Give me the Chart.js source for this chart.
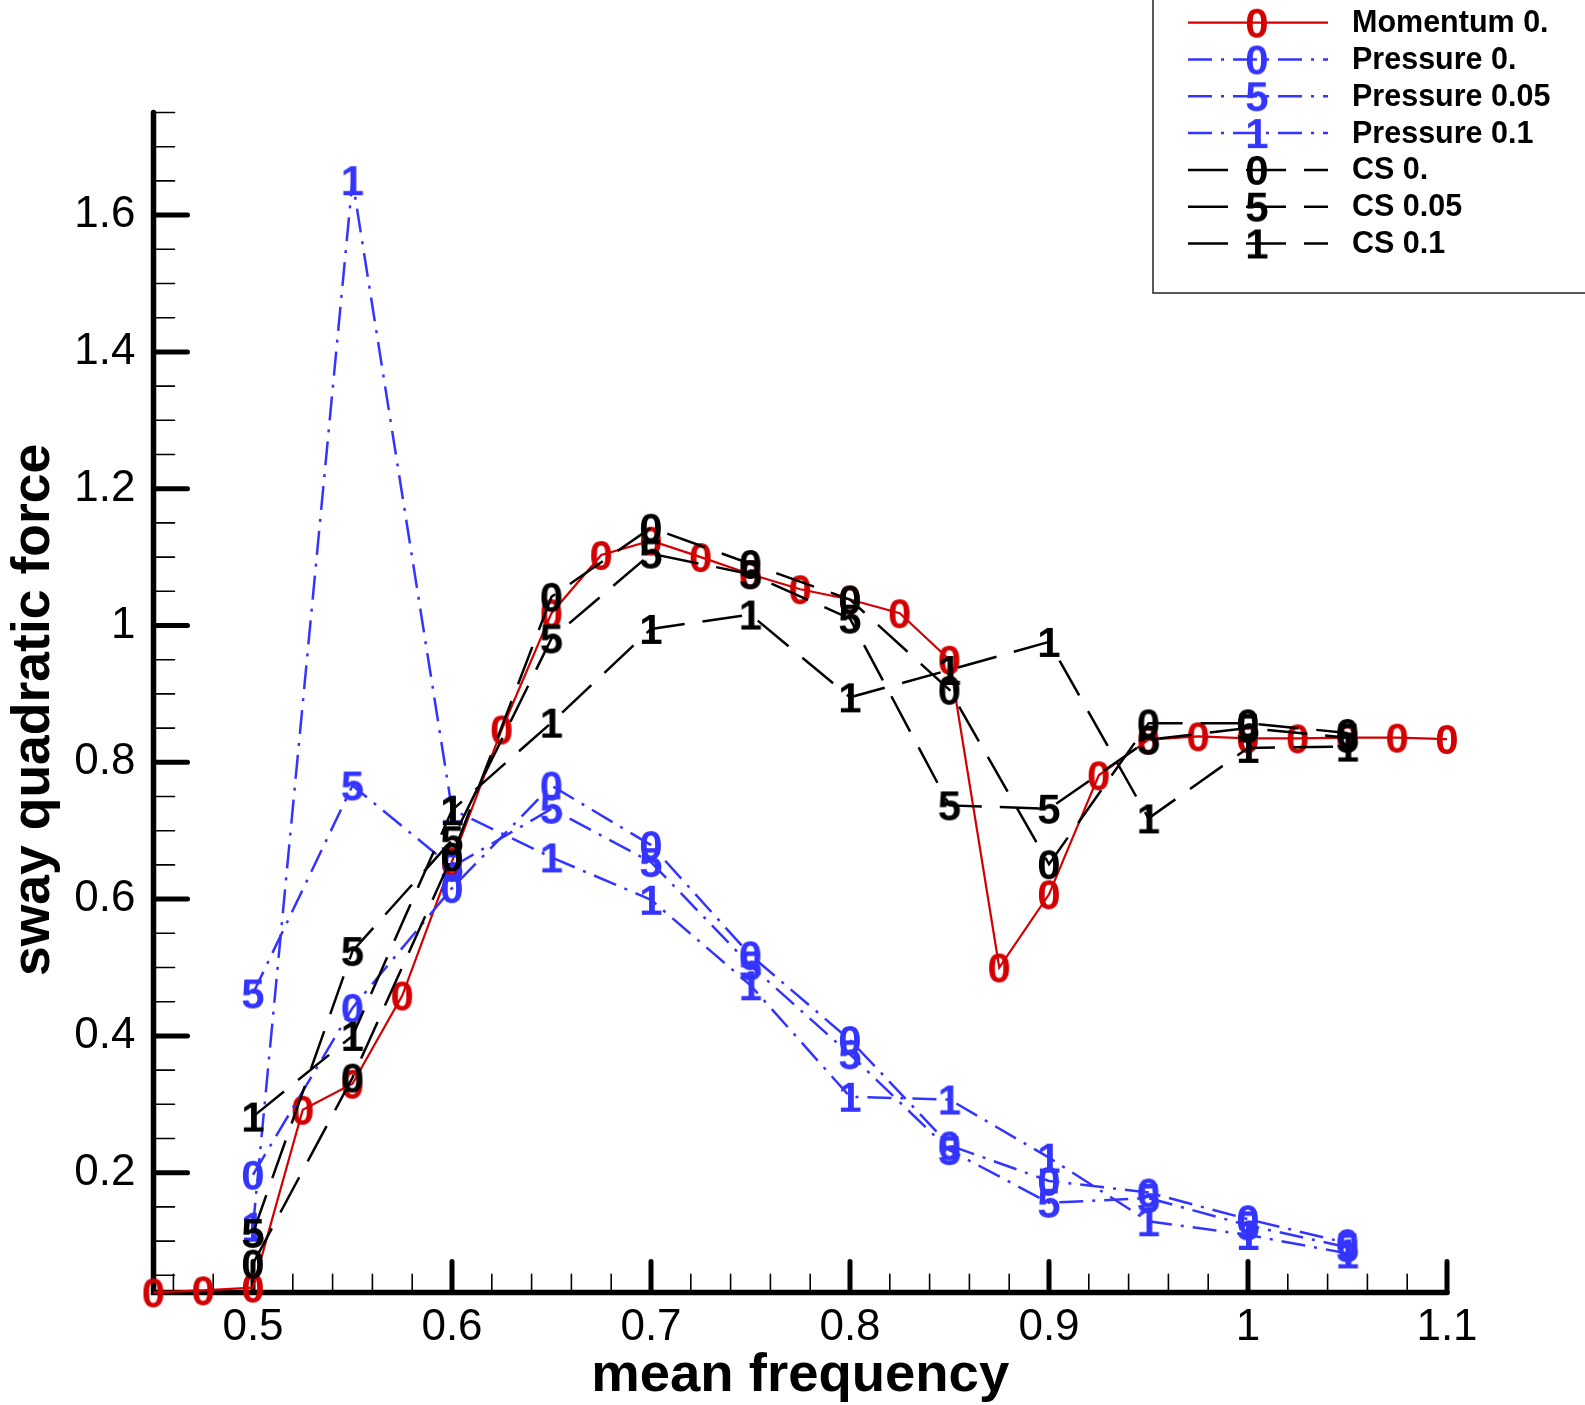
<!DOCTYPE html>
<html>
<head>
<meta charset="utf-8">
<script src="https://cdn.jsdelivr.net/npm/chart.js@4.4.1/dist/chart.umd.min.js"></script>
<style>
body { margin: 0; background: #fff; }
canvas { display: block; }
</style>
</head>
<body>
<canvas id="chart" width="1585" height="1405"></canvas>
<script>
/*
 * Frequencies: the momentum run uses a finer step than the others.
 */
const freqFine = [
	0.45, 0.475, 0.5, 0.525, 0.55, 0.575, 0.6, 0.625, 0.65, 0.675,
	0.7, 0.725, 0.75, 0.775, 0.8, 0.825, 0.85, 0.875, 0.9, 0.925,
	0.95, 0.975, 1.0, 1.025, 1.05, 1.075, 1.1,
];
const freqCoarse = [
	0.5, 0.55, 0.6, 0.65, 0.7, 0.75, 0.8, 0.85, 0.9, 0.95, 1.0, 1.05,
];

/* Sway quadratic force. */

const momentum0 = [
	0.025, 0.028, 0.032, 0.292, 0.330, 0.459, 0.655, 0.848, 1.018, 1.103,
	1.124, 1.100, 1.075, 1.053, 1.038, 1.018, 0.950, 0.500, 0.607, 0.781,
	0.833, 0.838, 0.835, 0.835, 0.836, 0.836, 0.834,
];
const pressure0 = [
	0.197, 0.441, 0.616, 0.766, 0.679, 0.518, 0.394, 0.240, 0.188, 0.171, 0.132, 0.097,
];
const pressure005 = [
	0.462, 0.766, 0.647, 0.732, 0.654, 0.503, 0.373, 0.233, 0.156, 0.163, 0.123, 0.091,
];
const pressure01 = [
	0.121, 1.651, 0.731, 0.661, 0.599, 0.474, 0.311, 0.307, 0.222, 0.129, 0.109, 0.082,
];
const cs0 = [
	0.067, 0.339, 0.662, 1.042, 1.143, 1.090, 1.038, 0.906, 0.651, 0.857, 0.857, 0.843,
];
const cs005 = [
	0.112, 0.524, 0.686, 0.981, 1.105, 1.075, 1.010, 0.737, 0.732, 0.833, 0.850, 0.836,
];
const cs01 = [
	0.282, 0.400, 0.730, 0.858, 0.995, 1.016, 0.895, 0.935, 0.976, 0.718, 0.821, 0.823,
];

const seriesNames = [
	'Momentum 0.', 'Pressure 0.', 'Pressure 0.05', 'Pressure 0.1',
	'CS 0.', 'CS 0.05', 'CS 0.1',
];
const seriesSymbols = ['0', '0', '5', '1', '0', '5', '1'];

/* Axis ticks and labels. */

const xTicks = [0.5, 0.6, 0.7, 0.8, 0.9, 1.0, 1.1];
const xTickLabels = ['0.5', '0.6', '0.7', '0.8', '0.9', '1', '1.1'];
const yTicks = [0.2, 0.4, 0.6, 0.8, 1.0, 1.2, 1.4, 1.6];
const yTickLabels = ['0.2', '0.4', '0.6', '0.8', '1', '1.2', '1.4', '1.6'];

const RED = '#d20000';
const BLUE = '#3434ff';
const BLACK = '#000000';
const DASHDOT = [24, 9, 3, 9];
const LONGDASH = [40, 18];

/**
 * Render a digit as a small canvas so Chart.js can use it as a point
 * style.  The glyph is centred on the canvas.
 */
function makeSymbol(ch, color)
{
	const c = document.createElement('canvas');
	c.width = 36;
	c.height = 46;
	const g = c.getContext('2d');
	g.font = 'bold 42px "Liberation Sans", Arial, sans-serif';
	g.fillStyle = color;
	g.textAlign = 'center';
	g.textBaseline = 'alphabetic';
	const asc = g.measureText('0').actualBoundingBoxAscent;
	g.fillText(ch, c.width / 2, c.height / 2 + asc / 2);
	return c;
}

function pairs(xs, ys)
{
	return xs.map((x, i) => ({ x: x, y: ys[i] }));
}

const seriesData = [
	pairs(freqFine, momentum0),
	pairs(freqCoarse, pressure0),
	pairs(freqCoarse, pressure005),
	pairs(freqCoarse, pressure01),
	pairs(freqCoarse, cs0),
	pairs(freqCoarse, cs005),
	pairs(freqCoarse, cs01),
];
const seriesColors = [RED, BLUE, BLUE, BLUE, BLACK, BLACK, BLACK];
const seriesDash = [[], DASHDOT, DASHDOT, DASHDOT, LONGDASH, LONGDASH, LONGDASH];

const datasets = seriesNames.map((name, i) => ({
	label: name,
	data: seriesData[i],
	borderColor: seriesColors[i],
	borderWidth: i === 0 ? 2.2 : 2.5,
	borderDash: seriesDash[i],
	pointStyle: makeSymbol(seriesSymbols[i], seriesColors[i]),
	pointRadius: 8,
	tension: 0,
	fill: false,
	clip: false,
	order: seriesNames.length - i,
}));

/**
 * Tecplot style axes: thick left and bottom lines with inward ticks.
 */
const axesPlugin = {
	id: 'tecplotAxes',
	beforeDatasetsDraw(chart) {
		const { ctx, scales: { x, y } } = chart;
		const left = x.getPixelForValue(x.min);
		const right = x.getPixelForValue(x.max);
		const top = y.getPixelForValue(y.max);
		const bottom = y.getPixelForValue(y.min);

		ctx.save();
		ctx.strokeStyle = '#000';
		ctx.lineCap = 'round';

		/* Minor ticks first. */

		ctx.lineWidth = 1.6;
		ctx.beginPath();
		for (let k = 1; k <= 35; k++) {
			const v = k * 0.05;
			if (k % 4 === 0 || v > y.max + 1e-9)
				continue;
			const py = y.getPixelForValue(v);
			ctx.moveTo(left, py);
			ctx.lineTo(left + 21, py);
		}
		for (let k = 23; k <= 54; k++) {
			if (k % 5 === 0)
				continue;
			const px = x.getPixelForValue(k * 0.02);
			ctx.moveTo(px, bottom);
			ctx.lineTo(px, bottom - 18);
		}
		ctx.stroke();

		/* Major ticks. */

		ctx.lineWidth = 5;
		ctx.beginPath();
		for (const v of yTicks) {
			const py = y.getPixelForValue(v);
			ctx.moveTo(left, py);
			ctx.lineTo(left + 34, py);
		}
		for (const v of xTicks) {
			const px = x.getPixelForValue(v);
			ctx.moveTo(px, bottom);
			ctx.lineTo(px, bottom - 31);
		}
		ctx.stroke();

		/* Axis lines. */

		ctx.lineWidth = 5.5;
		ctx.beginPath();
		ctx.moveTo(left, top);
		ctx.lineTo(left, bottom);
		ctx.lineTo(right, bottom);
		ctx.stroke();
		ctx.restore();
	},
};

/**
 * Legend box in the top right corner, each entry a short line sample with
 * the series symbol in its middle.
 */
const legendPlugin = {
	id: 'tecplotLegend',
	afterDraw(chart) {
		const { ctx } = chart;
		ctx.save();
		ctx.strokeStyle = '#222';
		ctx.lineWidth = 1.5;
		ctx.strokeRect(1153, -10, 500, 303);

		chart.data.datasets.forEach((ds, i) => {
			const cy = 22.7 + i * 36.8;
			ctx.strokeStyle = ds.borderColor;
			ctx.lineWidth = ds.borderWidth;
			ctx.setLineDash(ds.borderDash);
			ctx.beginPath();
			ctx.moveTo(1188, cy);
			ctx.lineTo(1328, cy);
			ctx.stroke();
			ctx.setLineDash([]);
			const sym = ds.pointStyle;
			ctx.drawImage(sym, 1257 - sym.width / 2, cy - sym.height / 2);
			ctx.fillStyle = '#000';
			ctx.font = 'bold 30.5px "Liberation Sans", Arial, sans-serif';
			ctx.textBaseline = 'middle';
			ctx.textAlign = 'left';
			ctx.fillText(ds.label, 1352, cy + 1);
		});
		ctx.restore();
	},
};

const tickFont = { family: '"Liberation Sans", Arial, sans-serif', size: 44 };

new Chart(document.getElementById('chart'), {
	type: 'line',
	data: { datasets: datasets },
	plugins: [axesPlugin, legendPlugin],
	options: {
		responsive: false,
		animation: false,
		devicePixelRatio: 1,
		layout: {
			padding: { left: 0, top: 112.5, right: 138, bottom: 0 },
		},
		plugins: {
			legend: { display: false },
			tooltip: { enabled: false },
		},
		scales: {
			x: {
				type: 'linear',
				min: 0.45,
				max: 1.1,
				grid: { display: false, drawTicks: false },
				border: { display: false },
				afterBuildTicks: (s) => {
					s.ticks = xTicks.map(v => ({ value: v }));
				},
				afterFit: (s) => { s.height = 112.6; },
				ticks: {
					autoSkip: false,
					maxRotation: 0,
					padding: 9,
					color: '#000',
					font: tickFont,
					callback: (v, i) => xTickLabels[i],
				},
				title: {
					display: true,
					text: 'mean frequency',
					color: '#000',
					font: { family: '"Liberation Sans", Arial, sans-serif', size: 54.5, weight: 'bold' },
					padding: { top: 0, bottom: -4 },
				},
			},
			y: {
				type: 'linear',
				min: 0.025,
				max: 1.75,
				grid: { display: false, drawTicks: false },
				border: { display: false },
				afterBuildTicks: (s) => {
					s.ticks = yTicks.map(v => ({ value: v }));
				},
				afterFit: (s) => { s.width = 153.5; },
				ticks: {
					autoSkip: false,
					padding: 18,
					color: '#000',
					font: tickFont,
					callback: (v, i) => yTickLabels[i],
				},
				title: {
					display: true,
					text: 'sway quadratic force ',
					color: '#000',
					font: { family: '"Liberation Sans", Arial, sans-serif', size: 53.5, weight: 'bold' },
					padding: { top: 2, bottom: 0 },
				},
			},
		},
	},
});
</script>
</body>
</html>
